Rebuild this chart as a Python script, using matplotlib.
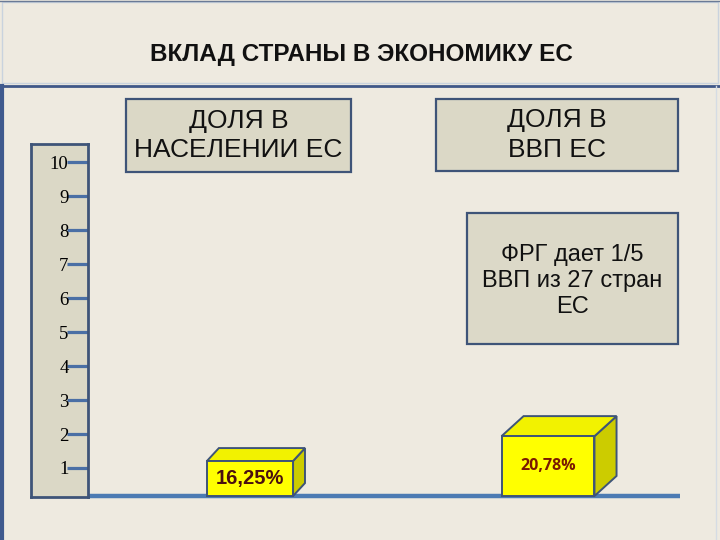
import matplotlib
matplotlib.use("Agg")
import matplotlib.pyplot as plt
from matplotlib.patches import Polygon, Rectangle

# data
ruler_ticks = [1, 2, 3, 4, 5, 6, 7, 8, 9, 10]
bar_names = ["ДОЛЯ В\nНАСЕЛЕНИИ ЕС", "ДОЛЯ В\nВВП ЕС"]
bar_heights = [1.03, 1.76]          # drawn height, in ruler units
bar_labels = ["16,25%", "20,78%"]
title = "ВКЛАД СТРАНЫ В ЭКОНОМИКУ ЕС"
note = "ФРГ дает 1/5\nВВП из 27 стран\nЕС"

BG = "#EEEAE0"
BOX = "#DBD8C6"
EDGE = "#3E5478"
BLUE = "#4C7BB3"
FONT = ["Liberation Sans", "DejaVu Sans"]

fig = plt.figure(figsize=(7.2, 5.4), dpi=100, facecolor=BG)

# main axes covers the whole figure; 1 x-unit = 298 px, 1 y-unit = 34 px
ax = fig.add_axes([0, 0, 1, 1])
ax.set_facecolor(BG)
ax.set_xlim(-250 / 298, 470 / 298)
ax.set_ylim(-38 / 34, 502 / 34)
ax.axis("off")

# frame of the slide
fig.patches.append(Rectangle((2 / 720, 1 - 83 / 540), 716 / 720, 81 / 540, transform=fig.transFigure,
                             fill=False, edgecolor="#C9D3DE", lw=1))
fig.lines.append(plt.Line2D([0, 1], [1 - 0.5 / 540] * 2, transform=fig.transFigure, color="#6A7A96", lw=1))
fig.lines.append(plt.Line2D([0, 1], [1 - 86 / 540] * 2, transform=fig.transFigure, color="#3F5788", lw=2))
fig.lines.append(plt.Line2D([1.5 / 720] * 2, [0, 1 - 86 / 540], transform=fig.transFigure, color="#3F5A8E", lw=3))
fig.lines.append(plt.Line2D([716 / 720] * 2, [0, 1 - 86 / 540], transform=fig.transFigure, color="#D5DCE4", lw=1))

fig.text(361 / 720, 1 - 55 / 540, title, ha="center", va="center", fontsize=17.5,
         fontweight="bold", family=FONT, color="#111111")

# base line
base = 0.176
ax.plot([-0.544, 1.443], [base, base], color=BLUE, lw=3.2, solid_capstyle="butt", zorder=1)

# 3D bars
centers = [0, 1]
widths = [0.289, 0.312]
depth_x = [0.040, 0.074]
depth_y = [0.38, 0.59]
label_style = [
    dict(fontsize=14.5, fontweight="bold", family=FONT, color="#4A1010"),
    dict(fontsize=11.5, fontweight="bold", family=["Open Sans", "DejaVu Sans"], color="#7A1A00"),
]
for xc, w, h, dx, dy, lab, st in zip(centers, widths, bar_heights, depth_x, depth_y, bar_labels, label_style):
    xl, xr, top = xc - w / 2, xc + w / 2, base + h
    ax.add_patch(Polygon([(xr, base), (xr + dx, base + dy), (xr + dx, top + dy), (xr, top)],
                         closed=True, facecolor="#CCCC00", edgecolor=EDGE, lw=1.4, zorder=2))
    ax.add_patch(Polygon([(xl, top), (xr, top), (xr + dx, top + dy), (xl + dx, top + dy)],
                         closed=True, facecolor="#F2F200", edgecolor=EDGE, lw=1.4, zorder=2))
    ax.add_patch(Rectangle((xl, base), w, h, facecolor="#FFFF00", edgecolor=EDGE, lw=1.4, zorder=3))
    ax.text(xc, base + h / 2, lab, ha="center", va="center", zorder=4, **st)

# header boxes above the bars
header_boxes = [(126, 99, 351, 172), (436, 99, 678, 171)]
for name, (x0, y0, x1, y1) in zip(bar_names, header_boxes):
    fig.patches.append(Rectangle((x0 / 720, 1 - y1 / 540), (x1 - x0) / 720, (y1 - y0) / 540,
                                 transform=fig.transFigure, facecolor=BOX, edgecolor=EDGE, lw=1.6))
    fig.text((x0 + x1) / 2 / 720, 1 - (y0 + y1) / 2 / 540, name, ha="center", va="center",
             fontsize=19, family=FONT, color="#111111", linespacing=1.3)

# note box
fig.patches.append(Rectangle((467 / 720, 1 - 344 / 540), 211 / 720, 131 / 540, transform=fig.transFigure,
                             facecolor="#DCD9C8", edgecolor=EDGE, lw=1.6))
fig.text(572 / 720, 1 - 281 / 540, note, ha="center", va="center", fontsize=17, family=FONT,
         color="#111111", linespacing=1.25)

# ruler on the left
rax = fig.add_axes([31 / 720, 43 / 540, 57 / 720, 353 / 540])
rax.set_facecolor(BOX)
rax.set_xlim(0, 1)
rax.set_ylim(0.147, 10.53)
rax.set_xticks([])
rax.set_yticks(ruler_ticks)
rax.set_yticklabels([str(t) for t in ruler_ticks], family=["Liberation Serif", "DejaVu Serif"], fontsize=13.5)
rax.tick_params(axis="y", left=False, right=True, labelleft=True, labelright=False,
                direction="in", length=15, width=2.3, color="#4A6FA5", pad=-27)
for sp in rax.spines.values():
    sp.set_color(EDGE)
    sp.set_linewidth(2)
rax.set_zorder(5)

fig.savefig("out.png", dpi=100, facecolor=BG)
